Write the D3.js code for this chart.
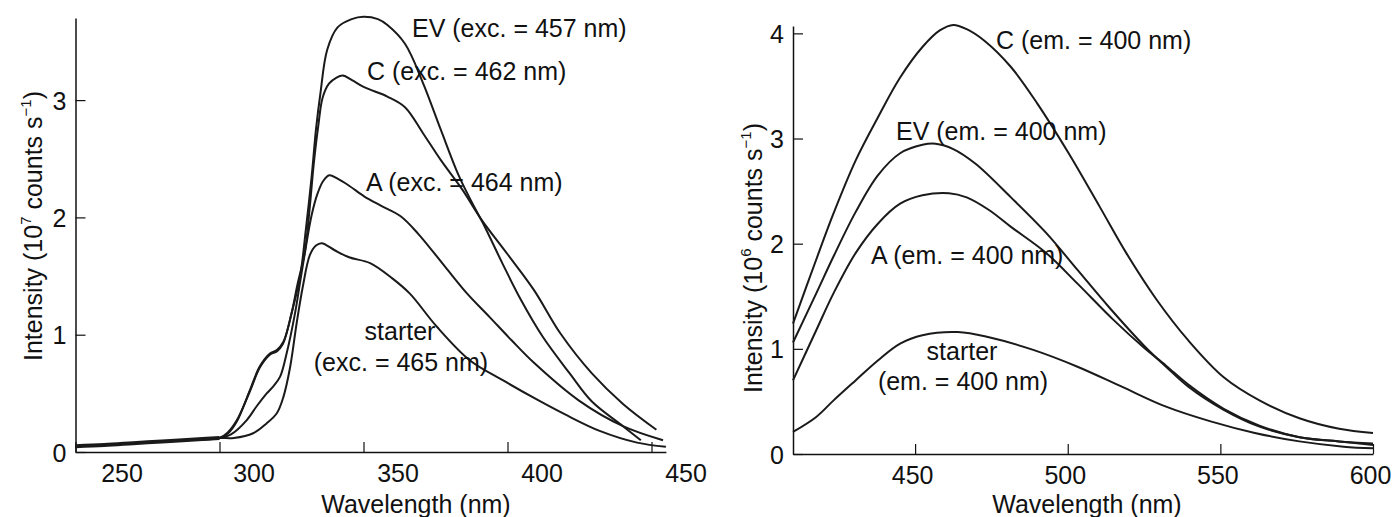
<!DOCTYPE html>
<html>
<head>
<meta charset="utf-8">
<script src="https://cdn.jsdelivr.net/npm/d3@7"></script>
<style>
  body { margin: 0; background: #fff; }
  text { font-family: "Liberation Sans", Arial, Helvetica, sans-serif; fill: #111; }
</style>
</head>
<body>
<div id="chart"></div>
<script>
// left panel: excitation spectra, [wavelength (nm), intensity (10^7 counts/s)]
var exEV = [[250,0.05],[260,0.06],[270,0.075],[280,0.09],[290,0.105],[300,0.12],[303,0.17],[306,0.27],
  [310.6,0.52],[314,0.72],[317.5,0.83],[320,0.86],[322,0.92],[325,1.18],[328,1.5],[330,1.9],[332,2.35],
  [333.5,2.75],[335,3.05],[337.4,3.43],[341,3.62],[345.9,3.69],[350,3.71],[355,3.69],[358.3,3.64],
  [364.4,3.48],[370.6,3.15],[376.8,2.75],[383,2.36],[387.6,2.13],[391.5,1.95],[398.4,1.60],[404.6,1.30],
  [412.3,0.98],[421.6,0.67],[429.3,0.43],[440.1,0.22],[446.3,0.10]];
var exC = [[250,0.05],[260,0.06],[270,0.075],[280,0.09],[290,0.105],[300,0.12],[303,0.16],[306,0.26],
  [310.6,0.53],[314,0.73],[317.5,0.84],[319.9,0.87],[322.2,0.94],[325,1.18],[327,1.42],[329.6,1.70],
  [331.2,2.05],[332.7,2.45],[334.3,2.78],[335.8,3.02],[338,3.14],[340.5,3.19],[342.8,3.21],[346,3.17],
  [350.2,3.11],[358.3,3.03],[364.4,2.94],[370.6,2.72],[376.8,2.49],[384.5,2.23],[390.7,1.99],[399.9,1.69],
  [409.2,1.38],[418.4,1.01],[429.3,0.67],[440.1,0.41],[451.7,0.19]];
var exA = [[250,0.05],[260,0.06],[270,0.075],[280,0.09],[290,0.105],[300,0.12],[304,0.15],[309.4,0.27],
  [312.9,0.39],[316.4,0.50],[318.7,0.56],[321,0.64],[323.3,0.84],[326.2,1.18],[328,1.45],[330,1.75],
  [332,2.02],[334,2.20],[336,2.31],[338.1,2.36],[341,2.33],[345,2.27],[350.2,2.18],[356,2.10],[362.9,2.01],
  [369,1.86],[378.3,1.58],[386,1.35],[393.8,1.15],[401.5,0.95],[409.2,0.76],[424.7,0.44],[440.1,0.22],[454,0.10]];
var exStarter = [[250,0.05],[260,0.06],[270,0.075],[280,0.09],[290,0.105],[300,0.12],[305,0.12],[311.7,0.16],
  [316.4,0.245],[319.9,0.33],[322.2,0.47],[324.5,0.72],[326.8,1.10],[329,1.42],[331.4,1.68],[333.5,1.76],
  [335.5,1.78],[340,1.72],[345,1.66],[352.3,1.61],[360,1.48],[366.1,1.35],[375.4,1.07],[387,0.78],
  [398.5,0.61],[410,0.45],[420,0.32],[432,0.18],[445,0.08],[455,0.045]];

// right panel: emission spectra, [wavelength (nm), intensity (10^6 counts/s)]
var emC = [[410,1.24],[417.5,1.84],[423.3,2.29],[430.5,2.79],[437.8,3.2],[445.1,3.58],[452.4,3.87],
  [458.2,4.03],[462.5,4.08],[466.9,4.04],[472.7,3.93],[481.4,3.68],[490.1,3.33],[500.3,2.86],[510.5,2.35],
  [519.2,1.91],[529.3,1.46],[539.5,1.08],[551.1,0.73],[562.8,0.51],[575.9,0.34],[588.9,0.24],[600,0.20]];
var emEV = [[410,1.06],[417.5,1.52],[423.3,1.88],[430.5,2.30],[437.8,2.65],[445.1,2.86],[452.4,2.94],
  [456.7,2.95],[462.5,2.90],[469.8,2.76],[481.4,2.44],[493,2.10],[503.2,1.75],[513.4,1.40],[525,1.03],
  [532.2,0.83],[539.5,0.64],[551.1,0.42],[562.8,0.26],[575.9,0.16],[588.9,0.12],[600,0.10]];
var emA = [[410,0.70],[417.5,1.17],[423.3,1.53],[430.5,1.91],[437.8,2.19],[445.1,2.38],[452.4,2.46],
  [461.1,2.48],[466.9,2.44],[474.2,2.32],[481.4,2.16],[493,1.91],[503.2,1.62],[514.8,1.28],[525,1.01],
  [532.2,0.84],[539.5,0.66],[551.1,0.43],[562.8,0.27],[575.9,0.16],[588.9,0.12],[600,0.085]];
var emStarter = [[410,0.21],[417.5,0.35],[423.3,0.51],[430.5,0.70],[437.8,0.89],[445.1,1.05],[452.4,1.13],
  [464,1.16],[474.2,1.11],[488.7,0.99],[503.2,0.83],[517.7,0.64],[532.2,0.45],[546.8,0.31],[561.3,0.20],
  [575.9,0.12],[590.4,0.07],[600,0.054]];

var exXTicks = [250, 300, 350, 400, 450];
var exYTicks = [0, 1, 2, 3];
var emXTicks = [450, 500, 550, 600];
var emYTicks = [0, 1, 2, 3, 4];

var exLabels = ["EV (exc. = 457 nm)", "C (exc. = 462 nm)", "A (exc. = 464 nm)", "starter", "(exc. = 465 nm)"];
var emLabels = ["C (em. = 400 nm)", "EV (em. = 400 nm)", "A (em. = 400 nm)", "starter", "(em. = 400 nm)"];

var svg = d3.select("#chart")
  .append("svg")
    .attr("width", 1395)
    .attr("height", 517);

// scales
var xEx = d3.scaleLinear().domain([250, 455]).range([75.5, 665.9]);
var yEx = d3.scaleLinear().domain([0, 3.7]).range([452, 18]);
var xEm = d3.scaleLinear().domain([410, 600]).range([793, 1373]);
var yEm = d3.scaleLinear().domain([0, 4.07]).range([454, 26]);

function styleAxis(g) {
  g.select(".domain").attr("stroke", "#111").attr("stroke-width", 1.5);
  g.selectAll(".tick line").attr("stroke", "#111").attr("stroke-width", 1.2);
  g.selectAll("text")
    .attr("font-size", 25)
    .attr("font-family", "Liberation Sans, Arial, sans-serif")
    .attr("fill", "#111");
}

function drawPanel(x, y, xTicks, yTicks, series, labelShift) {
  var gx = svg.append("g")
    .attr("transform", "translate(0," + y(0) + ")")
    .call(d3.axisBottom(x).tickValues(xTicks).tickSizeInner(-10).tickSizeOuter(0).tickFormat(d3.format("d")));
  styleAxis(gx);
  gx.selectAll(".tick text")
    .attr("y", 30).attr("dy", 0)
    .attr("x", labelShift);

  var gy = svg.append("g")
    .attr("transform", "translate(" + x.range()[0] + ",0)")
    .call(d3.axisLeft(y).tickValues(yTicks).tickSizeInner(-10).tickSizeOuter(0).tickPadding(9).tickFormat(d3.format("d")));
  styleAxis(gy);
  gy.selectAll(".tick text").attr("dy", "0.36em");

  var line = d3.line()
    .x(function(d) { return x(d[0]); })
    .y(function(d) { return y(d[1]); })
    .curve(d3.curveCatmullRom.alpha(0.5));

  svg.append("g").selectAll("path")
    .data(series)
    .enter()
    .append("path")
      .attr("d", line)
      .attr("fill", "none")
      .attr("stroke", "#1a1a1a")
      .attr("stroke-width", 2);
}

drawPanel(xEx, yEx, exXTicks, exYTicks, [exStarter, exA, exC, exEV],
  function(d) { return d === 250 ? 46 : 34; });
drawPanel(xEm, yEm, emXTicks, emYTicks, [emStarter, emA, emEV, emC],
  function(d) { return -3; });

// the left baseline looks heavier where all traces overlap
svg.append("path")
  .datum(exStarter.filter(function(d) { return d[0] <= 300; }))
  .attr("d", d3.line().x(function(d) { return xEx(d[0]); }).y(function(d) { return yEx(d[1]); }).curve(d3.curveCatmullRom.alpha(0.5)))
  .attr("fill", "none")
  .attr("stroke", "#1a1a1a")
  .attr("stroke-width", 4);

// curve labels
function label(txt, x, y, anchor) {
  svg.append("text")
    .attr("x", x).attr("y", y)
    .attr("font-size", 25)
    .attr("text-anchor", anchor || "start")
    .text(txt);
}
label(exLabels[0], 412, 37);
label(exLabels[1], 367, 80);
label(exLabels[2], 366, 191);
label(exLabels[3], 400, 340, "middle");
label(exLabels[4], 401, 371, "middle");

label(emLabels[0], 996, 49);
label(emLabels[1], 896, 140);
label(emLabels[2], 871, 264);
label(emLabels[3], 962, 360, "middle");
label(emLabels[4], 963, 390, "middle");

// axis titles
function yTitle(x, y, exp) {
  var t = svg.append("text")
    .attr("transform", "translate(" + x + "," + y + ") rotate(-90)")
    .attr("text-anchor", "middle")
    .attr("font-size", 25);
  t.append("tspan").text("Intensity (10");
  t.append("tspan").attr("font-size", 15).attr("dy", -11).text(exp);
  t.append("tspan").attr("dy", 11).text(" counts s");
  t.append("tspan").attr("font-size", 15).attr("dy", -11).text("\u22121");
  t.append("tspan").attr("dy", 11).text(")");
}
yTitle(42, 226, "7");
yTitle(762, 258, "6");

svg.append("text").attr("x", 416).attr("y", 513).attr("text-anchor", "middle")
  .attr("font-size", 25).text("Wavelength (nm)");
svg.append("text").attr("x", 1087).attr("y", 513).attr("text-anchor", "middle")
  .attr("font-size", 25).text("Wavelength (nm)");
</script>
</body>
</html>
